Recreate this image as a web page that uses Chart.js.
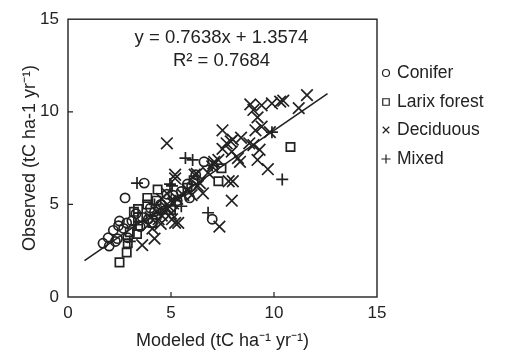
<!DOCTYPE html>
<html>
<head>
<meta charset="utf-8">
<script src="https://cdn.jsdelivr.net/npm/chart.js@4.4.0/dist/chart.umd.min.js"></script>
<style>
  html, body { margin: 0; padding: 0; background: #fff; }
</style>
</head>
<body>
<canvas id="chartScatter" width="512" height="352"></canvas>
<script>
// values
const coniferX = [1.7, 2.0, 1.95, 2.2, 2.4, 2.45, 2.5, 2.85, 2.9, 2.77, 3.7, 3.1, 2.7, 3.3, 3.6, 3.9, 4.2, 4.8, 5.1, 5.8, 5.9, 5.5, 7.0, 6.2, 6.6, 4.5, 4.0, 2.3, 3.5, 5.3, 6.0];
const coniferY = [2.9, 2.75, 3.2, 3.6, 3.15, 3.85, 4.1, 4.0, 3.2, 5.35, 6.15, 4.1, 3.7, 4.5, 4.3, 4.2, 4.6, 5.55, 5.5, 6.1, 5.35, 5.7, 4.2, 6.6, 7.3, 5.0, 4.8, 3.0, 3.8, 5.2, 6.0];

const larixX = [2.5, 2.85, 2.9, 3.35, 3.4, 3.4, 3.4, 3.85, 3.85, 4.3, 4.35, 7.3, 7.45, 10.8, 5.8, 5.0, 4.1, 3.0, 6.1, 3.2];
const larixY = [1.87, 2.4, 2.9, 3.4, 3.85, 4.3, 4.75, 5.0, 5.35, 5.2, 5.8, 6.25, 6.95, 8.1, 5.9, 4.7, 4.0, 3.5, 6.3, 4.6];

const deciduousX = [8.85, 9.0, 9.4, 9.9, 10.3, 10.45, 11.6, 11.2, 9.2, 9.1, 9.4, 9.8, 7.5, 8.0, 8.4,
  4.8, 7.7, 7.5, 7.95, 8.8, 9.3, 9.2, 8.35, 9.7, 9.0, 7.9, 8.0, 7.8, 7.95, 7.05, 7.0, 7.1, 8.25,
  6.15, 5.2, 6.25, 6.55, 6.4, 7.35, 5.35, 4.8, 3.6, 4.2, 4.1, 4.55, 4.8, 5.05, 5.1, 4.55, 5.2, 4.5,
  5.2, 4.3, 4.6, 4.9, 5.3, 5.6, 5.8, 6.0, 6.3, 6.8, 7.3, 4.0, 4.4, 3.9, 5.0];
const deciduousY = [10.4, 10.1, 10.35, 10.45, 10.55, 10.6, 10.9, 10.2, 9.7, 9.0, 9.2, 8.9, 9.0, 8.5, 8.6,
  8.3, 8.3, 8.0, 7.85, 8.3, 7.95, 7.4, 7.3, 6.9, 8.2, 8.4, 6.25, 6.25, 5.2, 7.2, 7.05, 7.3, 7.5,
  6.6, 6.6, 6.65, 5.6, 6.15, 3.8, 4.0, 5.6, 2.8, 3.15, 3.7, 4.4, 4.8, 4.2, 5.05, 5.3, 4.0, 3.95,
  6.4, 4.6, 4.7, 4.9, 5.3, 5.5, 5.8, 5.5, 6.0, 6.7, 7.4, 4.3, 4.2, 3.9, 4.5];

const mixedX = [3.35, 4.95, 5.05, 5.7, 6.05, 6.8, 5.5, 10.4, 3.0, 4.5, 5.2, 4.2, 3.3, 7.0, 9.9];
const mixedY = [6.15, 6.1, 6.0, 7.5, 7.4, 4.55, 4.9, 6.35, 3.0, 4.5, 5.2, 5.0, 3.9, 7.1, 8.9];

const fitSlope = 0.7638;
const fitIntercept = 1.3574;
const fitR2 = 0.7684;
const fitX = [0.8, 12.6];
const fitY = fitX.map((x) => fitSlope * x + fitIntercept);

const axisTicks = [0, 5, 10, 15];
const seriesNames = ["Conifer", "Larix forest", "Deciduous", "Mixed"];

const ink = "#222";
const fontFamily = "'Liberation Sans', Arial, sans-serif";
const toPoints = (xs, ys) => xs.map((x, i) => ({ x: x, y: ys[i] }));

const markerDataset = (label, xs, ys, style, radius) => ({
  type: "scatter",
  label: label,
  data: toPoints(xs, ys),
  pointStyle: style,
  pointRadius: radius,
  pointHoverRadius: radius,
  pointBorderWidth: 1.7,
  borderColor: ink,
  backgroundColor: "rgba(0,0,0,0)",
});

// frame, inward ticks, equation and legend
const decorations = {
  id: "decorations",
  afterDraw(chart) {
    const ctx = chart.ctx;
    const area = chart.chartArea;
    const xs = chart.scales.x;
    const ys = chart.scales.y;

    ctx.save();
    ctx.strokeStyle = ink;
    ctx.lineWidth = 1.4;
    ctx.strokeRect(area.left, area.top, area.right - area.left, area.bottom - area.top);

    ctx.lineWidth = 1.2;
    axisTicks.slice(1, -1).forEach((v) => {
      const px = xs.getPixelForValue(v);
      const py = ys.getPixelForValue(v);
      ctx.beginPath();
      ctx.moveTo(px, area.bottom);
      ctx.lineTo(px, area.bottom - 5);
      ctx.moveTo(area.left, py);
      ctx.lineTo(area.left + 5, py);
      ctx.stroke();
    });

    ctx.fillStyle = ink;
    ctx.font = "18.5px " + fontFamily;
    ctx.textAlign = "center";
    ctx.textBaseline = "middle";
    const ex = xs.getPixelForValue(7.45);
    ctx.fillText("y = " + fitSlope + "x + " + fitIntercept, ex, ys.getPixelForValue(14.0));
    ctx.fillText("R\u00B2 = " + fitR2, ex, ys.getPixelForValue(12.75));

    // legend
    const rowsY = [73, 102, 130, 159];
    ctx.font = "17.5px " + fontFamily;
    ctx.textAlign = "left";
    chart.data.datasets.slice(0, 4).forEach((ds, i) => {
      ctx.strokeStyle = ink;
      ctx.fillStyle = "rgba(0,0,0,0)";
      Chart.helpers.drawPoint(ctx, {
        pointStyle: ds.pointStyle,
        radius: ds.pointStyle === "circle" ? 3.5 : 4.6,
        rotation: 0,
        borderWidth: 1.4,
      }, 386, rowsY[i]);
      ctx.fillStyle = ink;
      ctx.fillText(seriesNames[i], 397, rowsY[i]);
    });
    ctx.restore();
  },
};

const canvas = document.getElementById("chartScatter");
const context = canvas.getContext("2d");

const chartScatter = new Chart(context, {
  type: "scatter",
  data: {
    datasets: [
      markerDataset(seriesNames[0], coniferX, coniferY, "circle", 4.6),
      markerDataset(seriesNames[1], larixX, larixY, "rect", 5.9),
      markerDataset(seriesNames[2], deciduousX, deciduousY, "crossRot", 8.2),
      markerDataset(seriesNames[3], mixedX, mixedY, "cross", 6),
      {
        type: "line",
        label: "fit",
        data: toPoints(fitX, fitY),
        borderColor: ink,
        borderWidth: 1.6,
        pointRadius: 0,
        fill: false,
      },
    ],
  },
  options: {
    responsive: false,
    animation: false,
    layout: { padding: { top: 16, right: 135, left: 0, bottom: 0 } },
    plugins: {
      legend: { display: false },
      tooltip: { enabled: false },
    },
    scales: {
      x: {
        type: "linear",
        min: 0,
        max: 15,
        afterFit: (scale) => { scale.height = 55; },
        afterBuildTicks: (scale) => { scale.ticks = axisTicks.map((v) => ({ value: v })); },
        grid: { display: false, drawTicks: false },
        border: { display: false },
        ticks: { color: ink, padding: 6, maxRotation: 0, font: { size: 17, family: fontFamily } },
        title: {
          display: true,
          text: "Modeled (tC ha\u207B\u00B9 yr\u207B\u00B9)",
          color: ink,
          padding: { top: 0, bottom: 0 },
          font: { size: 18, family: fontFamily },
        },
      },
      y: {
        type: "linear",
        min: 0,
        max: 15,
        afterFit: (scale) => { scale.width = 68; },
        afterBuildTicks: (scale) => { scale.ticks = axisTicks.map((v) => ({ value: v })); },
        grid: { display: false, drawTicks: false },
        border: { display: false },
        ticks: { color: ink, padding: 9, font: { size: 17, family: fontFamily } },
        title: {
          display: true,
          text: "Observed (tC ha-1 yr\u207B\u00B9)",
          color: ink,
          padding: { top: 19, bottom: 0 },
          font: { size: 18, family: fontFamily },
        },
      },
    },
  },
  plugins: [decorations],
});
</script>
</body>
</html>
